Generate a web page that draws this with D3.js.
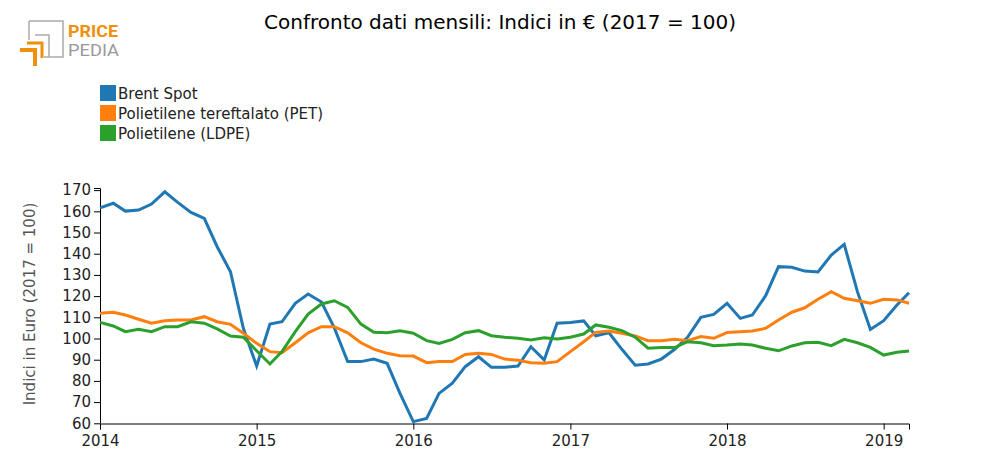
<!DOCTYPE html>
<html><head><meta charset="utf-8">
<script src="https://cdnjs.cloudflare.com/ajax/libs/d3/7.8.5/d3.min.js"></script>
<style>body{margin:0;background:#fff;font-family:"DejaVu Sans",sans-serif;}</style>
</head><body><svg id="c" width="1000" height="475"></svg>
<script>
const startMonth = "2014-01";
const brent = [161.6,163.8,160.1,160.6,163.4,169.2,164.2,159.5,156.7,143.3,131.5,104.8,
 87.0,106.8,107.9,116.6,121.0,117.2,105.0,89.1,89.1,90.3,88.3,74.1,
 60.8,62.3,74.1,78.9,86.7,91.4,86.4,86.4,87.0,96.1,89.9,107.2,
 107.5,108.3,101.3,102.7,94.9,87.4,88.0,90.3,94.9,100.6,110.0,111.4,
 116.6,109.5,111.1,120.2,133.9,133.6,131.8,131.4,139.4,144.4,122.0,104.3,
 108.4,115.8,121.6];
const pet = [111.9,112.4,111.1,109.1,107.2,108.4,108.7,108.7,110.3,107.9,106.7,102.5,
 97.7,93.8,93.3,98.0,102.7,105.6,105.6,102.7,98.0,95.0,93.0,91.9,
 91.7,88.6,89.1,89.1,92.5,93.0,92.5,90.3,89.7,88.6,88.3,89.1,
 93.8,98.5,102.9,103.5,102.5,101.2,99.0,99.0,99.6,99.0,100.9,100.1,
 102.8,103.2,103.5,104.8,108.7,112.4,114.5,118.5,122.1,119.0,117.8,116.6,
 118.5,118.2,116.6];
const ldpe = [107.6,105.9,103.2,104.3,103.2,105.6,105.6,107.9,107.2,104.5,101.2,100.6,
 94.2,88.0,93.8,103.2,111.5,116.3,117.8,114.7,106.8,102.9,102.7,103.7,
 102.5,99.0,97.7,99.6,102.7,103.7,101.3,100.6,100.1,99.3,100.4,99.8,
 100.6,102.1,106.4,105.3,103.7,100.6,95.4,95.7,95.7,98.5,98.0,96.6,
 96.9,97.4,96.9,95.4,94.2,96.5,98.0,98.2,96.6,99.6,98.0,95.8,
 92.2,93.5,94.1];
const seriesNames = ["Brent Spot","Polietilene tereftalato (PET)","Polietilene (LDPE)"];
const seriesColors = ["#1f77b4","#ff7f0e","#2ca02c"];
const yTicks = [60,70,80,90,100,110,120,130,140,150,160,170];
const xTickYears = [2014,2015,2016,2017,2018,2019];
const titleText = "Confronto dati mensili: Indici in € (2017 = 100)";
const yLabel = "Indici in Euro (2017 = 100)";

const svg = d3.select("#c");
const parse = d3.timeParse("%Y-%m");
const t0 = parse(startMonth);
const dates = brent.map((_, i) => d3.timeMonth.offset(t0, i));
const x = d3.scaleTime().domain([dates[0], dates[dates.length-1]]).range([100, 909]);
const y = d3.scaleLinear().domain([60, 171]).range([423.3, 188]);

// logo
const logo = svg.append("g");
logo.append("path").attr("d","M29,21 H63 V57 H44").attr("fill","none").attr("stroke","#aaa").attr("stroke-width",1.5);
logo.append("path").attr("d","M29,21 V40").attr("fill","none").attr("stroke","#aaa").attr("stroke-width",1.5);
logo.append("path").attr("d","M35,35 H49 V57").attr("fill","none").attr("stroke","#aaa").attr("stroke-width",1.5);
logo.append("path").attr("d","M27,43 H42 V58").attr("fill","none").attr("stroke","#f0900a").attr("stroke-width",3);
logo.append("path").attr("d","M20,50 H35 V66").attr("fill","none").attr("stroke","#f0900a").attr("stroke-width",4);
logo.append("text").attr("x",68).attr("y",36.5).attr("font-size",16.5).attr("font-weight","bold").attr("fill","#f0900a")
  .attr("font-family","Roboto, sans-serif").attr("textLength",50).attr("lengthAdjust","spacingAndGlyphs").text("PRICE");
logo.append("text").attr("x",68).attr("y",56).attr("font-size",16.5).attr("fill","#999")
  .attr("font-family","Roboto, sans-serif").attr("textLength",51).attr("lengthAdjust","spacingAndGlyphs").text("PEDIA");

svg.append("text").attr("x",500).attr("y",29).attr("text-anchor","middle").attr("font-size",20).attr("fill","#000").text(titleText);

// legend
seriesNames.forEach((n,i)=>{
  const g = svg.append("g").attr("transform",`translate(100,${85+i*20})`);
  g.append("rect").attr("width",16).attr("height",16).attr("fill",seriesColors[i]);
  g.append("text").attr("x",18).attr("y",14).attr("font-size",15).attr("fill","#222").text(n);
});

// axes
const yAxis = d3.axisLeft(y).tickValues(yTicks).tickSizeOuter(0);
const gy = svg.append("g").attr("transform","translate(100,0)").call(yAxis);
const xAxis = d3.axisBottom(x).tickValues(xTickYears.map(v=>new Date(v,0,1))).tickFormat(d3.timeFormat("%Y"));
const gx = svg.append("g").attr("transform","translate(0,423.5)").call(xAxis);
[gx,gy].forEach(g=>{
  g.selectAll("text").attr("font-size",15).attr("font-family","DejaVu Sans, sans-serif").attr("fill","#222");
  g.selectAll("path,line").attr("stroke","#000");
});
gy.select(".domain").attr("d","M-6,188.5H0.5V423.5");
gx.selectAll("text").attr("dy","0.9em");

svg.append("text").attr("transform","translate(35,304) rotate(-90)").attr("text-anchor","middle")
  .attr("font-size",15).attr("fill","#555").text(yLabel);

const line = d3.line().x((d,i)=>x(dates[i])).y(d=>y(d));
[brent,pet,ldpe].forEach((s,i)=>{
  svg.append("path").attr("d",line(s)).attr("fill","none").attr("stroke",seriesColors[i]).attr("stroke-width",3);
});
</script></body></html>
